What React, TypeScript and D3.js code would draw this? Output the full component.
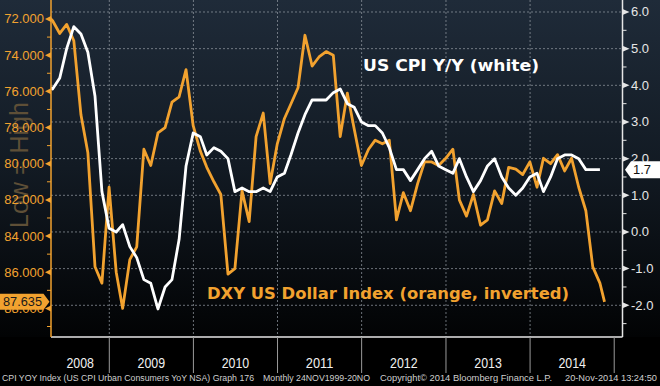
import * as d3 from 'd3';

// monthly points, month-end, starting Mar 2008
const cpiStart = [2008, 2];
const cpiValues = [
  4.0, 3.9, 4.2, 5.0, 5.6, 5.4, 4.9, 3.7, 1.1, 0.1,
  0.0, 0.2, -0.4, -0.7, -1.3, -1.4, -2.1, -1.5, -1.3, -0.2, 1.8, 2.7,
  2.6, 2.1, 2.3, 2.2, 2.0, 1.1, 1.2, 1.1, 1.1, 1.2, 1.1, 1.5,
  1.6, 2.1, 2.7, 3.2, 3.6, 3.6, 3.6, 3.8, 3.9, 3.5, 3.4, 3.0,
  2.9, 2.9, 2.7, 2.3, 1.7, 1.7, 1.4, 1.7, 2.0, 2.2, 1.8, 1.7,
  1.6, 2.0, 1.5, 1.1, 1.4, 1.8, 2.0, 1.5, 1.2, 1.0, 1.2, 1.5,
  1.6, 1.1, 1.5, 2.0, 2.1, 2.1, 2.0, 1.7, 1.7, 1.7,
];
const cpiLastLabel = '1.7';

const dxyStart = [2008, 2];
const dxyValues = [
  71.7, 72.1, 72.8, 72.3, 73.2, 77.3, 79.4, 85.7, 86.6, 81.3,
  86.0, 88.0, 85.3, 84.6, 79.2, 80.1, 78.3, 78.0, 76.6, 76.3, 74.8, 77.9,
  79.3, 80.2, 81.0, 81.7, 86.1, 85.8, 81.5, 83.2, 78.5, 77.2, 81.1, 78.9,
  77.5, 76.7, 75.8, 72.9, 74.6, 74.1, 73.8, 74.0, 78.5, 76.1, 78.1, 80.1,
  79.2, 78.7, 78.9, 78.7, 83.1, 81.6, 82.6, 81.1, 79.9, 79.9, 80.1, 79.7,
  79.2, 82.0, 82.9, 81.7, 83.4, 83.1, 81.5, 82.2, 80.2, 80.3, 80.6, 79.9,
  81.3, 79.7, 80.0, 79.5, 80.4, 79.7, 81.3, 82.6, 85.7, 86.6,
];
const dxyLastDate = new Date(2014, 10, 20);
const dxyLastValue = 87.635;
const dxyLastLabel = '87.635';

const leftMajor = [72, 74, 76, 78, 80, 82, 84, 86, 88];
const leftMinor = [73, 75, 77, 79, 81, 83, 85, 87, 89];
const rightMajor = [6, 5, 4, 3, 2, 1, 0, -1, -2];
const rightMinor = [5.5, 4.5, 3.5, 2.5, 1.5, 0.5, -0.5, -1.5, -2.5];
const years = [2008, 2009, 2010, 2011, 2012, 2013, 2014];

const W = 660;
const H = 386;
const L = 51;
const R = 622.5;
const B = 337;

const ORANGE = '#f2a22f';
const FONT = "'Liberation Sans', Arial, sans-serif";

const monthEnds = (start: number[], n: number) =>
  d3.range(n).map((i) => new Date(start[0], start[1] + i + 1, 0));

export default function App() {
  const x = d3.scaleTime().domain([new Date(2008, 3, 23), new Date(2015, 1, 6)]).range([L, R]);
  const yL = d3.scaleLinear().domain([70.95, 89.58]).range([0, B]);
  const yR = d3.scaleLinear().domain([6.327, -2.865]).range([0, B]);

  const cpi: [Date, number][] = monthEnds(cpiStart, cpiValues.length).map((d, i) => [d, cpiValues[i]]);
  const dxy: [Date, number][] = monthEnds(dxyStart, dxyValues.length).map((d, i) => [d, dxyValues[i]]);
  dxy.push([dxyLastDate, dxyLastValue]);

  const lineR = d3.line<[Date, number]>().x((d) => x(d[0])).y((d) => yR(d[1]));
  const lineL = d3.line<[Date, number]>().x((d) => x(d[0])).y((d) => yL(d[1]));

  const yearBounds = years.slice(1).map((y) => x(new Date(y, 0, 1)));
  const sepBounds = [...years.slice(1), 2015].map((y) => x(new Date(y, 0, 1)));

  const oy = yL(dxyLastValue);
  const wy = yR(cpi[cpi.length - 1][1]);

  return (
    <>
      <style>{'body{margin:0;background:#000}'}</style>
      <svg width={W} height={H} style={{ display: 'block' }}>
        <defs>
          <linearGradient id="bg" x1="0" y1="0" x2="0" y2="1">
            <stop offset="0" stopColor="#1f2b39" />
            <stop offset="0.5" stopColor="#121a23" />
            <stop offset="1" stopColor="#020304" />
          </linearGradient>
          <clipPath id="plot">
            <rect x={L} y={0} width={R - L} height={B} />
          </clipPath>
        </defs>
        <rect width={W} height={H} fill="#000" />
        <rect width={W} height={B} fill="url(#bg)" />

        {/* faint side label */}
        <text
          transform={`translate(28,165) rotate(-90)`}
          textAnchor="middle"
          fontFamily={FONT}
          fontSize={25}
          fill="#5e4f37"
        >
          Low = High
        </text>

        {/* grid */}
        <g stroke="#8f969e" strokeDasharray="2,2" strokeWidth={1} opacity={0.75}>
          {rightMajor.map((v) => (
            <line key={v} x1={L} x2={R} y1={yR(v)} y2={yR(v)} />
          ))}
          {yearBounds.map((bx, i) => (
            <line key={i} x1={bx} x2={bx} y1={0} y2={B} />
          ))}
        </g>

        {/* series */}
        <g clipPath="url(#plot)" fill="none" strokeWidth={2.8} strokeLinejoin="round">
          <path d={lineL(dxy) ?? ''} stroke={ORANGE} />
          <path d={lineR(cpi) ?? ''} stroke="#ffffff" />
        </g>

        {/* legends */}
        <text x={363} y={71} fontFamily="'DejaVu Sans', sans-serif" fontSize={15} fontWeight="bold" fill="#fff" textLength={176} lengthAdjust="spacingAndGlyphs">
          US CPI Y/Y (white)
        </text>
        <text x={207} y={299} fontFamily="'DejaVu Sans', sans-serif" fontSize={15} fontWeight="bold" fill={ORANGE} textLength={362} lengthAdjust="spacingAndGlyphs">
          DXY US Dollar Index (orange, inverted)
        </text>

        {/* frame */}
        <line x1={L} x2={R} y1={B} y2={B} stroke="#e6e6e6" strokeWidth={1.5} />
        <line x1={L} x2={L} y1={0} y2={B} stroke={ORANGE} strokeWidth={1.5} />
        <line x1={R} x2={R} y1={0} y2={B} stroke="#e6e6e6" strokeWidth={1.5} />

        {/* left axis */}
        {leftMinor.map((v) => (
          <line key={v} x1={L - 4} x2={L} y1={yL(v)} y2={yL(v)} stroke={ORANGE} strokeWidth={1} />
        ))}
        {leftMajor.map((v) => (
          <g key={v}>
            <path d={`M${L},${yL(v) - 3}L${L - 6},${yL(v)}L${L},${yL(v) + 3}Z`} fill={ORANGE} />
            <text x={L - 7} y={yL(v) + 4.5} textAnchor="end" fontFamily={FONT} fontSize={13} fill={ORANGE}>
              {d3.format('.3f')(v)}
            </text>
          </g>
        ))}

        {/* right axis */}
        {rightMinor.map((v) => (
          <line key={v} x1={R} x2={R + 4} y1={yR(v)} y2={yR(v)} stroke="#e6e6e6" strokeWidth={1} />
        ))}
        {rightMajor.map((v) => (
          <g key={v}>
            <path d={`M${R},${yR(v) - 3}L${R + 7},${yR(v)}L${R},${yR(v) + 3}Z`} fill="#e6e6e6" />
            <text x={631} y={yR(v) + 4.5} fontFamily={FONT} fontSize={13} fill="#e6e6e6">
              {d3.format('.1f')(v).replace('−', '-')}
            </text>
          </g>
        ))}

        {/* last value tags */}
        <path d={`M0,${oy - 8}H43.5L49.5,${oy}L43.5,${oy + 8}H0Z`} fill={ORANGE} />
        <text x={3} y={oy + 4.5} fontFamily={FONT} fontSize={13} fill="#1a1a1a" textLength={39} lengthAdjust="spacingAndGlyphs">
          {dxyLastLabel}
        </text>
        <path d={`M${W},${wy - 8.5}H631L625,${wy}L631,${wy + 8.5}H${W}Z`} fill="#ffffff" />
        <text x={633} y={wy + 4.5} fontFamily={FONT} fontSize={13} fill="#111">
          {cpiLastLabel}
        </text>

        {/* x axis */}
        {sepBounds.map((bx, i) => (
          <line key={i} x1={bx} x2={bx} y1={B} y2={373} stroke="#9a9a9a" strokeWidth={1} />
        ))}
        {years.map((y) => {
          const a = Math.max(L, x(new Date(y, 0, 1)));
          const b = Math.min(R, x(new Date(y + 1, 0, 1)));
          return (
            <text key={y} x={(a + b) / 2} y={368} textAnchor="middle" fontFamily={FONT} fontSize={14.5} fill="#f0f0f0" textLength={27.5} lengthAdjust="spacingAndGlyphs">
              {y}
            </text>
          );
        })}

        {/* footer */}
        <g fontFamily="'Liberation Sans', Arial, sans-serif" fontSize={8.5} fill="#cfcfcf">
          <text x={2} y={381} textLength={252} lengthAdjust="spacingAndGlyphs">
            CPI YOY Index (US CPI Urban Consumers YoY NSA) Graph 176
          </text>
          <text x={263} y={381} textLength={107} lengthAdjust="spacingAndGlyphs">
            Monthly 24NOV1999-20NO
          </text>
          <text x={380} y={381} textLength={172} lengthAdjust="spacingAndGlyphs">
            Copyright© 2014 Bloomberg Finance L.P.
          </text>
          <text x={565} y={381} textLength={92} lengthAdjust="spacingAndGlyphs">
            20-Nov-2014 13:24:50
          </text>
        </g>
      </svg>
    </>
  );
}
